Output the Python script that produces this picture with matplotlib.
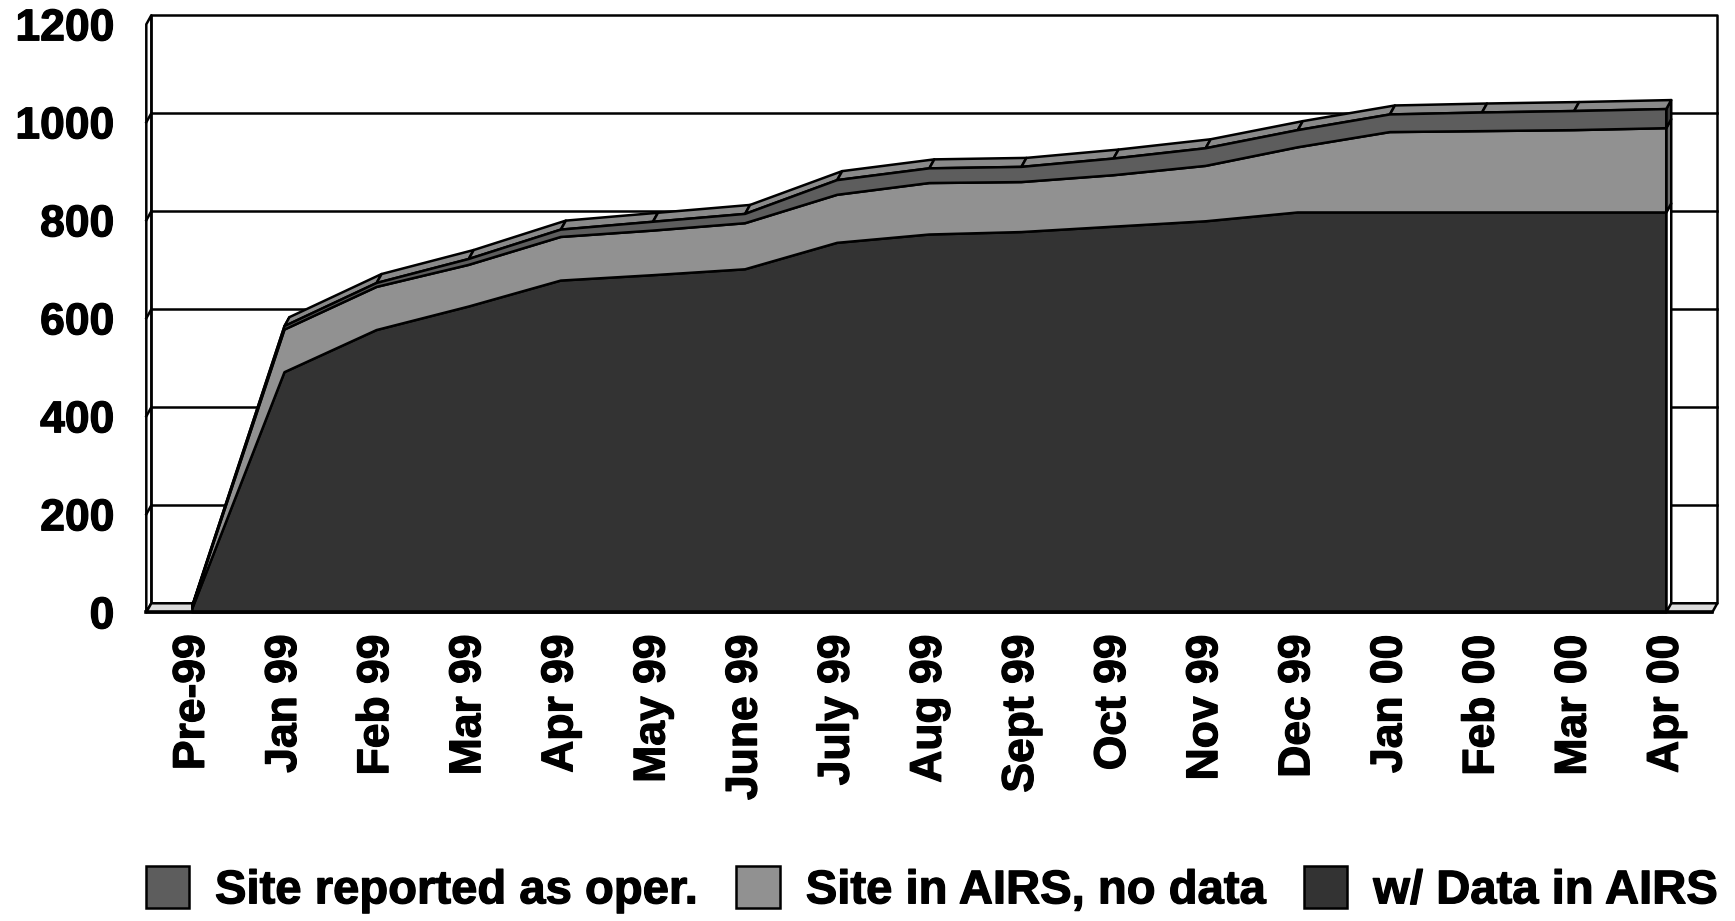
import numpy as np
import matplotlib
matplotlib.use('Agg')
import matplotlib.pyplot as plt
import matplotlib.patheffects as pe
from matplotlib.patches import Polygon, Patch
from matplotlib.transforms import IdentityTransform

# data
months = ['Pre-99', 'Jan 99', 'Feb 99', 'Mar 99', 'Apr 99', 'May 99', 'June 99',
          'July 99', 'Aug 99', 'Sept 99', 'Oct 99', 'Nov 99', 'Dec 99',
          'Jan 00', 'Feb 00', 'Mar 00', 'Apr 00']
with_data = [8, 490, 576, 624, 677, 688, 700, 754, 771, 776, 787, 798, 816, 816, 816, 816, 816]
no_data = [4, 87, 88, 85, 89, 91, 94, 98, 105, 102, 105, 113, 133, 164, 166, 168, 172]
reported = [2, 7, 8, 12, 15, 18, 19, 30, 30, 31, 34, 36, 35, 36, 38, 39, 39]
series_names = ['w/ Data in AIRS', 'Site in AIRS, no data', 'Site reported as oper.']
yticks = [0, 200, 400, 600, 800, 1000, 1200]

face_colors = ['#333333', '#919191', '#5d5d5d']
side_colors = ['#ffffff', '#6e6e6e', '#3c3c3c']
top_color = '#8a8a8a'
floor_color = '#dcdcdc'

DX, DY = 5, 9  # depth offset of the back plane, pixels
LW = 1.8

plt.rcParams['font.family'] = ['Liberation Sans', 'DejaVu Sans']
plt.rcParams['font.weight'] = 'bold'
bold = [pe.withStroke(linewidth=0.9, foreground='black')]

W, H = 1735, 921
fig = plt.figure(figsize=(W / 100, H / 100), dpi=100)
ax = fig.add_axes([146.3 / W, (H - 612.3) / H, 1566 / W, 588 / H])
ax.set_xlim(-0.5, 16.5)
ax.set_ylim(0, 1200)
ax.patch.set_visible(False)
for s in ax.spines.values():
    s.set_visible(False)

x = np.arange(len(months))
x0, x1 = -0.5, len(months) - 0.5


def pt(xv, yv, back=False):
    px, py = ax.transData.transform((xv, yv))
    if back:
        px += DX
        py += DY
    return (px, py)


def poly(pts, fc, z, lw=LW):
    p = Polygon(pts, closed=True, facecolor=fc, edgecolor='black', linewidth=lw,
                transform=IdentityTransform(), clip_on=False, zorder=z, joinstyle='round')
    ax.add_patch(p)


def seg(a, b, z, lw=LW):
    ax.add_line(plt.Line2D([a[0], b[0]], [a[1], b[1]], color='black', lw=lw,
                           transform=IdentityTransform(), clip_on=False, zorder=z))


# back wall
poly([pt(x0, 0, 1), pt(x1, 0, 1), pt(x1, 1200, 1), pt(x0, 1200, 1)], 'white', 1)
for v in yticks[1:-1]:
    seg(pt(x0, v, 1), pt(x1, v, 1), 2)

# left wall
poly([pt(x0, 0), pt(x0, 1200), pt(x0, 1200, 1), pt(x0, 0, 1)], 'white', 2)
for v in yticks[1:-1]:
    seg(pt(x0, v), pt(x0, v, 1), 2.5)

# floor
poly([pt(x0, 0), pt(x1, 0), pt(x1, 0, 1), pt(x0, 0, 1)], floor_color, 3)

# stacked areas
layers = [with_data, no_data, reported]
bottom = np.zeros(len(months))
tops = []
n = len(months) - 1
for k, vals in enumerate(layers):
    top = bottom + np.array(vals)
    front = [pt(xi, t) for xi, t in zip(x, top)] + [pt(xi, b) for xi, b in zip(x[::-1], bottom[::-1])]
    poly(front, face_colors[k], 6)
    # right side face
    poly([pt(x[n], bottom[n]), pt(x[n], top[n]), pt(x[n], top[n], 1), pt(x[n], bottom[n], 1)],
         side_colors[k], 5)
    tops.append(top)
    bottom = top

# top face of the stack
top = tops[-1]
for i in range(n):
    poly([pt(x[i], top[i]), pt(x[i + 1], top[i + 1]),
          pt(x[i + 1], top[i + 1], 1), pt(x[i], top[i], 1)], top_color, 5)

# front floor edge
seg(pt(x0, 0), pt(x1, 0), 7, lw=2.6)

# axes text
ax.set_yticks(yticks)
ax.set_yticklabels([str(v) for v in yticks], fontsize=32, fontweight='bold')
ax.set_xticks(x)
ax.set_xticklabels(months, rotation=90, fontsize=32, fontweight='bold')
ax.tick_params(axis='y', length=0, pad=23)
ax.tick_params(axis='x', length=0, pad=16)
for t in ax.get_xticklabels() + ax.get_yticklabels():
    t.set_path_effects(bold)

# legend
handles = [Patch(facecolor=face_colors[2], edgecolor='black', linewidth=LW),
           Patch(facecolor=face_colors[1], edgecolor='black', linewidth=LW),
           Patch(facecolor=face_colors[0], edgecolor='black', linewidth=LW)]
labels = [series_names[2], series_names[1], series_names[0]]
leg = fig.legend(handles, labels, loc='center', bbox_to_anchor=(0.537, 0.034), ncol=3,
                 frameon=False, fontsize=34, handlelength=0.92, handleheight=1.0,
                 handletextpad=0.55, columnspacing=0.8, borderaxespad=0)
for t in leg.get_texts():
    t.set_path_effects(bold)

fig.savefig('out.png', dpi=100)
